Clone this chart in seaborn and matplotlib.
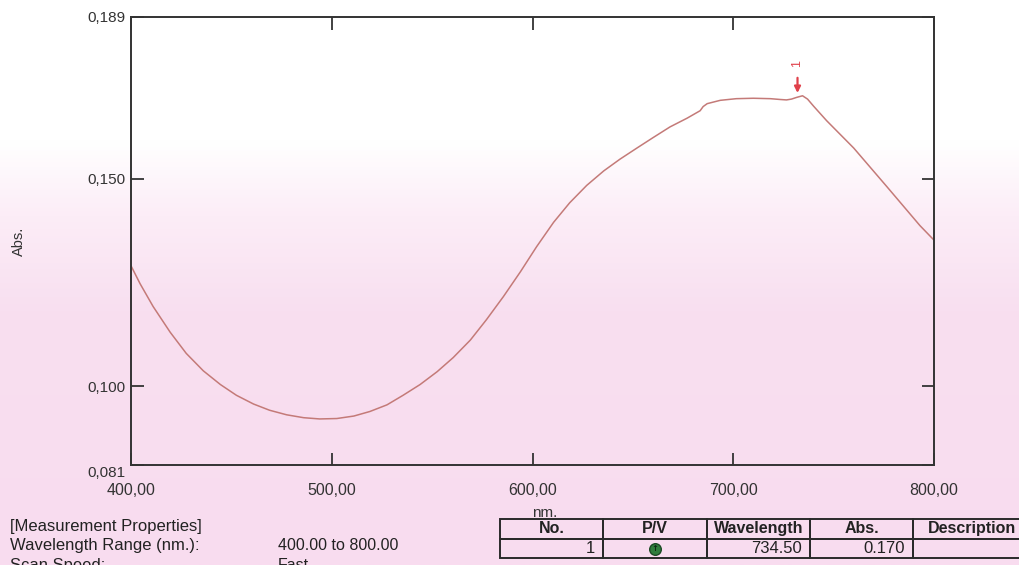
import numpy as np
import pandas as pd
import seaborn as sns
import matplotlib.pyplot as plt
from matplotlib.colors import LinearSegmentedColormap
from matplotlib.transforms import ScaledTranslation

# Spectrum (nm, Abs.)
wavelength = [400, 404.5, 411, 419.5, 427.5, 436, 444.5, 452.5, 461, 469, 477.5,
              486, 494, 502.5, 511, 519, 527.5, 535.5, 544, 552.5, 560.5, 569,
              577, 585.5, 594, 602, 610.5, 618.5, 627, 635.5, 643.5, 652, 660,
              668.5, 677, 683.5, 685, 687, 693.5, 701.5, 710, 718.5, 723.5,
              726.5, 729, 731.5, 734.5, 737, 740, 746.5, 760, 776.5, 793, 800]
absorbance = [0.1290, 0.1247, 0.1192, 0.1130, 0.1079, 0.1037, 0.1004, 0.0978,
              0.0957, 0.0942, 0.0931, 0.0924, 0.0921, 0.0922, 0.0928, 0.0939,
              0.0955, 0.0978, 0.1004, 0.1035, 0.1069, 0.1111, 0.1160, 0.1216,
              0.1276, 0.1336, 0.1395, 0.1442, 0.1484, 0.1519, 0.1547, 0.1574,
              0.1599, 0.1625, 0.1646, 0.1664, 0.1674, 0.1681, 0.1689, 0.1693,
              0.1694, 0.1693, 0.1691, 0.1690, 0.1692, 0.1696, 0.1700, 0.1692,
              0.1675, 0.1640, 0.1574, 0.1481, 0.1387, 0.1352]

peak_no = [1]
peak_wl = [734.50]
peak_abs = [0.170]

x_ticks = [400, 500, 600, 700, 800]
x_tick_labels = ["400,00", "500,00", "600,00", "700,00", "800,00"]
y_ticks = [0.081, 0.100, 0.150, 0.189]
y_tick_labels = ["0,081", "0,100", "0,150", "0,189"]

table_cols = ["No.", "P/V", "Wavelength", "Abs.", "Description"]

sns.set_style("white")
plt.rcParams["font.family"] = ["Liberation Sans", "DejaVu Sans"]

fig = plt.figure(figsize=(10.19, 5.65), dpi=100)

# photo-like paper: white near the top, pink lower down
bg = fig.add_axes([0, 0, 1, 1], zorder=-10)
grad = np.linspace(0, 1, 200).reshape(-1, 1)
cmap = LinearSegmentedColormap.from_list(
    "paper", [(0, "#f9dcef"), (0.45, "#f8dff0"), (0.62, "#fcedf7"),
              (0.75, "#ffffff"), (1, "#ffffff")])
bg.imshow(grad, aspect="auto", cmap=cmap, origin="lower", extent=[0, 1, 0, 1])
bg.axis("off")

ax = fig.add_axes([0.1286, 0.177, 0.7880, 0.793])
ax.patch.set_alpha(0)

df = pd.DataFrame({"nm": wavelength, "abs": absorbance})
sns.lineplot(data=df, x="nm", y="abs", ax=ax, color="#c47a78", linewidth=1.1)

ax.set_xlim(400, 800)
ax.set_ylim(0.081, 0.189)
ax.set_xticks(x_ticks)
ax.set_xticklabels(x_tick_labels)
ax.set_yticks(y_ticks)
ax.set_yticklabels(y_tick_labels)
ax.tick_params(direction="in", length=9, width=1.3, top=True, right=True,
               bottom=True, left=True, labelsize=11, colors="#333333")
ax.tick_params(axis="x", pad=13, labelsize=11.5)
ax.tick_params(axis="y", pad=4)
# the bottom limit label sits a little lower on the printout
ax.get_yticklabels()[0].set_transform(
    ax.get_yticklabels()[0].get_transform() + ScaledTranslation(0, -7 / 100, fig.dpi_scale_trans))
for s in ax.spines.values():
    s.set_color("#333333")
    s.set_linewidth(1.4)
ax.set_xlabel("")
ax.set_ylabel("Abs.", fontsize=10.5, color="#333333", labelpad=44)

# peak marker
for n, wl, a in zip(peak_no, peak_wl, peak_abs):
    ax.annotate("", xy=(wl - 2.5, a), xytext=(wl - 2.5, a + 0.0050),
                arrowprops=dict(arrowstyle="-|>", color="#e0404a", lw=1.6,
                                mutation_scale=9))
    ax.text(wl - 2.5, a + 0.0078, str(n), color="#e0404a", rotation=90,
            ha="center", va="center", fontsize=9)

fig.text(0.535, 0.085, "nm.", fontsize=11, ha="center", color="#333333")

# measurement properties
fig.text(0.010, 0.060, "[Measurement Properties]", fontsize=12, color="#222222")
fig.text(0.010, 0.027, "Wavelength Range (nm.):", fontsize=12, color="#222222")
fig.text(0.273, 0.027, "400.00 to 800.00", fontsize=11.5, color="#222222")
fig.text(0.010, 0.012, "Scan Speed:", fontsize=12, color="#222222", va="top")
fig.text(0.273, 0.012, "Fast", fontsize=11.5, color="#222222", va="top")

# peak table
tax = fig.add_axes([0.4907, 0.0124, 0.5201, 0.069])
tax.axis("off")
rows = [[str(peak_no[i]), "", f"{peak_wl[i]:.2f}", f"{peak_abs[i]:.3f}", ""]
        for i in range(len(peak_no))]
widths = np.array([103, 104, 103, 103, 117]) / 530
tbl = tax.table(cellText=rows, colLabels=table_cols, bbox=[0, 0, 1, 1],
                colWidths=list(widths), cellLoc="right")
tbl.auto_set_font_size(False)
for (r, c), cell in tbl.get_celld().items():
    cell.set_edgecolor("#2a2a2a")
    cell.set_linewidth(1.4)
    cell.set_facecolor("none")
    cell.PAD = 0.08
    cell.get_text().set_fontsize(12)
    cell.get_text().set_color("#222222")
    if r == 0:
        cell.get_text().set_fontweight("bold")
        cell.get_text().set_fontsize(11.5)
        cell._loc = "center"
        cell.get_text().set_ha("center")
pv_x = widths[0] + widths[1] / 2
tax.scatter([pv_x], [0.24], s=70, color="#2f7d3c", edgecolor="#1d4a26",
            linewidth=1, zorder=5, clip_on=False)
tax.text(pv_x, 0.24, "↑", color="#0f2a15", fontsize=6, ha="center",
         va="center", zorder=6, fontweight="bold", family=["DejaVu Sans"])
tax.set_xlim(0, 1)
tax.set_ylim(0, 1)

fig.savefig("out.png", dpi=100)
